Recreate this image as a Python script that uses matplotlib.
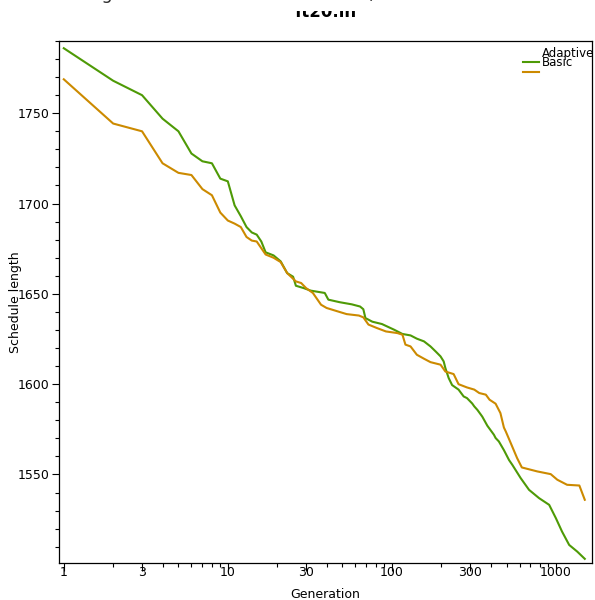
import matplotlib
matplotlib.use("Agg")
import matplotlib.pyplot as plt
from matplotlib.ticker import FixedLocator, FixedFormatter, MultipleLocator, NullFormatter
from matplotlib.patches import Rectangle

title = "ft20.in"
series_names = ["Adaptive", "Basic"]

gen_adaptive = [1, 2, 3, 4, 5, 6, 7, 8, 9, 10, 11, 12, 13, 14, 15, 16, 17, 19, 21, 23, 25, 26,
                29, 32, 39, 41, 48, 57, 64, 67, 69, 76, 87, 103, 116, 130, 142, 157, 172, 185,
                198, 207, 212, 222, 233, 255, 274, 287, 309, 318, 332, 349, 356, 382, 419, 429,
                449, 482, 518, 542, 610, 686, 790, 910, 1000, 1090, 1205, 1350, 1500]
val_adaptive = [1786, 1768, 1760, 1747, 1740, 1727.7, 1723.4, 1722.3, 1713.8, 1712.3, 1699,
                1693, 1687, 1684, 1682.8, 1679, 1673, 1671.3, 1668, 1661.5, 1659.5, 1654.5,
                1653.2, 1651.8, 1650.5, 1646.8, 1645.4, 1644.2, 1643, 1641.5, 1636.6, 1634.6,
                1633.3, 1630.2, 1627.8, 1627, 1625.2, 1623.7, 1620.9, 1618.1, 1615.4, 1612.6,
                1608.9, 1603.4, 1599.5, 1597, 1593.2, 1592.3, 1589.3, 1587.7, 1585.8, 1583.1,
                1582, 1577, 1572, 1570.2, 1568.3, 1563.5, 1558, 1555.4, 1548, 1541.5, 1536.9,
                1533.2, 1525.8, 1518.4, 1511, 1507.3, 1503.3]

gen_basic = [1, 2, 3, 4, 5, 6, 7, 8, 9, 10, 11, 12, 13, 14, 15, 17, 19, 21, 23, 26, 28, 30,
             33, 37, 40, 46, 53, 63, 67, 72, 81, 92, 108, 116, 121, 130, 142, 157, 172, 198,
             212, 238, 255, 287, 318, 341, 374, 394, 429, 459, 482, 495, 530, 580, 620, 770,
             930, 1020, 1170, 1390, 1500]
val_basic = [1768.8, 1744.3, 1740, 1722.3, 1717, 1715.8, 1708, 1704.6, 1695, 1690.6, 1688.9,
             1687, 1681.5, 1679.5, 1679, 1671.8, 1670, 1667.6, 1661.5, 1656.9, 1656, 1653.2,
             1650.5, 1644, 1642.2, 1640.5, 1638.8, 1638, 1637, 1633, 1631.1, 1629.2, 1628.3,
             1627.4, 1621.9, 1620.9, 1616.3, 1614.1, 1612.2, 1610.8, 1607, 1605.6, 1600,
             1598.2, 1597, 1595.1, 1594.2, 1591.4, 1589.2, 1584, 1576, 1573.8, 1567.5, 1559.1,
             1553.9, 1551.7, 1550.2, 1547.1, 1544.3, 1543.9, 1536]

xtick_vals = [1, 3, 10, 30, 100, 300, 1000]
xtick_labels = ["1", "3", "10", "30", "100", "300", "1000"]
xminor_vals = [2, 4, 5, 6, 7, 8, 9, 20, 40, 50, 60, 70, 80, 90,
               200, 400, 500, 600, 700, 800, 900]

colors = ["#4e9a06", "#cc8a00"]

plt.rcParams['font.family'] = ['DejaVu Sans']
fig = plt.figure(figsize=(5.95, 6.0), dpi=100)
ax = fig.add_axes([59 / 595, 1 - 563 / 600, (592 - 59) / 595, (563 - 41) / 600])

ax.plot(gen_adaptive, val_adaptive, color=colors[0], lw=1.5)
ax.plot(gen_basic, val_basic, color=colors[1], lw=1.5)

ax.set_xscale('log')
ax.set_xlim(0.935, 1660)
ax.set_ylim(1501, 1790)

ax.xaxis.set_major_locator(FixedLocator(xtick_vals))
ax.xaxis.set_major_formatter(FixedFormatter(xtick_labels))
ax.xaxis.set_minor_locator(FixedLocator(xminor_vals))
ax.xaxis.set_minor_formatter(NullFormatter())
ax.yaxis.set_major_locator(MultipleLocator(50))
ax.yaxis.set_minor_locator(MultipleLocator(10))

ax.tick_params(axis='x', which='major', direction='out', length=6, width=0.8,
               pad=-3.5, labelsize=9)
ax.tick_params(axis='x', which='minor', direction='out', length=3, width=0.8)
ax.tick_params(axis='y', which='major', direction='out', length=5, width=0.8,
               pad=2, labelsize=9)
ax.tick_params(axis='y', which='minor', direction='out', length=3, width=0.8)
for s in ax.spines.values():
    s.set_linewidth(0.9)

ax.set_xlabel("Generation", fontsize=9, labelpad=6)
ax.set_ylabel("Schedule length", fontsize=9)
ax.yaxis.set_label_coords(-0.07, 0.5)

ax.set_title(title, fontsize=12, fontweight='bold', pad=17)

# legend (handles offset below labels as in the reference)
for i, name in enumerate(series_names):
    yl = 1 - (62 + 10 * i - 41) / 522
    ax.plot([(523 - 59) / 533, (539 - 59) / 533], [yl, yl], transform=ax.transAxes,
            color=colors[i], lw=1.5, clip_on=False)
    ax.text((542 - 59) / 533, 1 - (53 + 10 * i - 41) / 522, name, transform=ax.transAxes,
            fontsize=8.5, va='center', ha='left')

# white band cutting off the top of the title, with the clipped line above
fig.patches.append(Rectangle((0, 1 - 11 / 600), 1, 11 / 600, transform=fig.transFigure,
                             facecolor='white', edgecolor='none', zorder=5))
fig.text(55 / 595, 1 + 1 / 600, "Change in best schedule over runs)", fontsize=13,
         ha='left', va='baseline', color='#333333', zorder=6)

fig.savefig("out.png", dpi=100)
